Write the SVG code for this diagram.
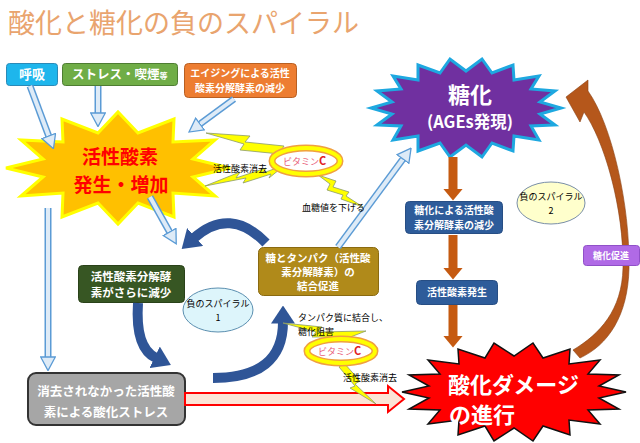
<svg xmlns="http://www.w3.org/2000/svg" width="640" height="443" viewBox="0 0 640 443">
<defs>
<style>
text{font-family:"Noto Sans CJK JP","Noto Sans CJK SC",sans-serif;}
.w{fill:#fff;font-weight:bold;text-anchor:middle}
.s{fill:#000;font-size:9px}
.hs{fill:none;stroke:#5B9BD5;stroke-width:7}
.hi{fill:none;stroke:#DEEBF7;stroke-width:4}
.br{fill:none;stroke:#C55A11;stroke-width:9}
.bl{fill:none;stroke:#2F5597;stroke-width:10}
.bolt{fill:#FFFF00;stroke:#8A9A6A;stroke-width:0.8}
.vc1{fill:#fff;stroke:#F0A040;stroke-width:7}
.vc2{fill:none;stroke:#FFFF00;stroke-width:4}
.vt{font-size:9px;fill:#E8607A}
.vC{font-size:11px;fill:#E02020;font-weight:bold}
.sp{font-size:9px;fill:#000;text-anchor:middle}
</style>
<marker id="mh" viewBox="0 0 15 16" refX="0.7" refY="8" markerWidth="15" markerHeight="16" markerUnits="userSpaceOnUse" orient="auto">
<path d="M0.7,0.7 L14.3,8 L0.7,15.3 Z" fill="#DEEBF7" stroke="#5B9BD5" stroke-width="1.3"/>
</marker>
<marker id="mb" viewBox="0 0 12 20" refX="0.5" refY="10" markerWidth="12" markerHeight="20" markerUnits="userSpaceOnUse" orient="auto">
<path d="M0,0 L12,10 L0,20 Z" fill="#C55A11"/>
</marker>
<marker id="ms" viewBox="0 0 12 16" refX="1" refY="8" markerWidth="18" markerHeight="24" markerUnits="userSpaceOnUse" orient="auto">
<path d="M0,0 L12,8 L0,16 Z" fill="#2F5597"/>
</marker>
</defs>
<rect width="640" height="443" fill="#fff"/>
<text x="8" y="33" font-size="27" fill="#E9A46E">酸化と糖化の負のスパイラル</text>

<g id="kokyu">
<rect x="6.5" y="63.5" width="51" height="22" rx="3" fill="#1EB6EC" stroke="#2A8AB8"/>
<text class="w" x="32" y="79" font-size="13">呼吸</text>
</g>
<g id="stress">
<rect x="62.5" y="63.5" width="115" height="22" rx="3" fill="#70AD47" stroke="#4E7D32"/>
<text x="72" y="79" font-size="12.5" fill="#fff" font-weight="bold">ストレス・喫煙<tspan font-size="8">等</tspan></text>
</g>
<g id="aging">
<rect x="184.5" y="63.5" width="112" height="34" rx="4" fill="#ED7D31" stroke="#B85F22"/>
<text class="w" x="240" y="77" font-size="10" font-weight="normal">エイジングによる活性</text>
<text class="w" x="240" y="92" font-size="10" font-weight="normal">酸素分解酵素の減少</text>
</g>
<g id="kasseisanso">
<polygon points="230,168 193,177 215,196 173,193 174,217 138,203 118,224 98,203 62,217 63,193 21,196 43,177 6,168 43,159 21,140 63,142 62,119 98,133 118,112 138,133 174,119 173,142 215,140 193,159" fill="#FFC000" stroke="#FFFF00" stroke-width="3" stroke-linejoin="miter"/>
<text x="120" y="164" font-size="19" fill="#FF0000" font-weight="bold" text-anchor="middle">活性酸素</text>
<text x="121" y="192" font-size="19" fill="#FF0000" font-weight="bold" text-anchor="middle">発生・増加</text>
</g>
<g id="toka" transform="translate(-2,4)">
<polygon points="563,104 542,110 557,121 533,122 541,136 516,132 515,147 494,139 484,153 468,141 452,153 442,139 420,147 420,132 395,136 403,122 379,121 394,110 373,104 394,98 379,87 403,85 395,72 420,76 420,61 442,69 452,55 468,67 484,55 494,69 515,61 516,76 541,72 533,85 557,87 542,98" fill="#7030A0" stroke="#1EA8E0" stroke-width="3"/>
<text class="w" x="472" y="99" font-size="22">糖化</text>
<text class="w" x="472" y="124" font-size="16.5">(AGEs発現)</text>
</g>
<g id="toka-genshou">
<rect x="405.5" y="201.5" width="97" height="32" rx="4" fill="#2E5C9A" stroke="#274E84"/>
<text class="w" x="454" y="214" font-size="10" font-weight="normal">糖化による活性酸</text>
<text class="w" x="454" y="229" font-size="10" font-weight="normal">素分解酵素の減少</text>
</g>
<g id="hassei">
<rect x="416.5" y="280.5" width="81" height="24" rx="4" fill="#2E5C9A" stroke="#274E84"/>
<text class="w" x="457" y="296" font-size="10" font-weight="normal">活性酸素発生</text>
</g>
<g id="spiral2">
<ellipse cx="551" cy="203" rx="34" ry="21" fill="#FFFFCC" stroke="#7A8FA8"/>
<text class="sp" x="551" y="200">負のスパイラル</text>
<text class="sp" x="551" y="214">2</text>
</g>
<g id="gensho">
<rect x="78.5" y="265.5" width="106" height="37" rx="4" fill="#375623" stroke="#2A4219"/>
<text class="w" x="131" y="281" font-size="11.5">活性酸素分解酵</text>
<text class="w" x="131" y="297" font-size="11.5">素がさらに減少</text>
</g>
<g id="ketsugo">
<rect x="258.5" y="247.5" width="120" height="48" rx="5" fill="#B08A1A" stroke="#8A6A10"/>
<text class="w" x="318" y="262" font-size="10.5">糖とタンパク（活性酸</text>
<text class="w" x="318" y="276" font-size="10.5">素分解酵素）の</text>
<text class="w" x="318" y="290" font-size="10.5">結合促進</text>
</g>
<g id="spiral1">
<ellipse cx="218" cy="310" rx="35" ry="22" fill="#DDF5FB" stroke="#5B8FB0"/>
<text class="sp" x="218" y="307">負のスパイラル</text>
<text class="sp" x="218" y="321">1</text>
</g>
<g id="sanka-stress">
<rect x="28" y="373" width="157" height="52" rx="8" fill="#A6A6A6" stroke="#333" stroke-width="2"/>
<text class="w" x="106" y="396" font-size="12.5" fill="#F4F4F4">消去されなかった活性酸</text>
<text class="w" x="106" y="417" font-size="12.5" fill="#F4F4F4">素による酸化ストレス</text>
</g>
<g id="damage">
<polygon points="626,392 599,398 619,409 588,410 600,424 569,420 570,435 543,426 533,441 514,428 494,441 485,426 458,435 459,420 428,424 440,410 409,409 429,398 402,392 429,386 409,375 440,374 428,360 459,364 458,349 485,358 494,343 514,356 533,343 543,358 570,349 569,364 600,360 588,374 619,375 599,386" fill="#FF0000" stroke="#111" stroke-width="1.5"/>
<text x="448" y="393" font-size="22" fill="#fff" font-weight="bold">酸化ダメージ</text>
<text x="449" y="423" font-size="22" fill="#fff" font-weight="bold">の進行</text>
</g>

<g id="connectors">
<line class="hs" x1="30" y1="86" x2="48.7" y2="136"/><line class="hi" x1="30" y1="86" x2="48.7" y2="136" marker-end="url(#mh)"/>
<line class="hs" x1="98" y1="86" x2="98" y2="113"/><line class="hi" x1="98" y1="86" x2="98" y2="113" marker-end="url(#mh)"/>
<line class="hs" x1="234" y1="99" x2="200" y2="124"/><line class="hi" x1="234" y1="99" x2="200" y2="124" marker-end="url(#mh)"/>
<line class="hs" x1="48" y1="208" x2="48" y2="357"/><line class="hi" x1="48" y1="208" x2="48" y2="357" marker-end="url(#mh)"/>
<line class="hs" x1="150" y1="197" x2="169.6" y2="232"/><line class="hi" x1="150" y1="197" x2="169.6" y2="232" marker-end="url(#mh)"/>
<line class="hs" x1="338" y1="247" x2="403" y2="159"/><line class="hi" x1="338" y1="247" x2="403" y2="159" marker-end="url(#mh)"/>
<line class="br" x1="453" y1="157" x2="453" y2="189" marker-end="url(#mb)"/>
<line class="br" x1="453" y1="235" x2="453" y2="268" marker-end="url(#mb)"/>
<line class="br" x1="453" y1="305" x2="453" y2="336" marker-end="url(#mb)"/>
<path class="bl" d="M266,243 Q230,206 194,238" marker-end="url(#ms)"/>
<path class="bl" d="M138,303 Q135,348 156,358" marker-end="url(#ms)"/>
<path class="bl" d="M213,378 Q283,378 283,322" marker-end="url(#ms)"/>
<path d="M185,393 L388,393 L388,386 L404,399 L388,412 L388,405 L185,405 Z" fill="#FCE4D6" stroke="#FF0000" stroke-width="2"/>
<path d="M566,97 L588,80 L588,91 C612,125 630,205 629,268 C628,316 608,345 580,358 L573,350 C600,334 622,310 623,268 C624,208 604,140 584,112 L580,122 Z" fill="#B5571B" stroke="#8A4012" stroke-width="0.6"/>
</g>

<g id="toka-sokushin">
<rect x="583.5" y="245.5" width="56" height="20" rx="3" fill="#B06AE6" stroke="#9050C8"/>
<text class="w" x="611" y="259" font-size="9" font-weight="normal">糖化促進</text>
</g>
<g id="vitaminC1">
<path class="bolt" d="M206,133 L250,136 L245,142 L284,146 L281,151 L300,151 L278,158 L280,154 L240,150 L244,144 Z"/>
<path class="bolt" d="M205,186 L240,172 L236,178 L266,168 L263,173 L285,165 L269,178 L271,174 L243,183 L246,178 Z"/>
<path class="bolt" d="M318,175 L336,181 L333,187 L349,192 L346,196 L363,207 L341,199 L343,195 L327,190 L330,184 Z"/>
<ellipse class="vc1" cx="306" cy="161" rx="34" ry="13"/>
<ellipse class="vc2" cx="306" cy="161" rx="34" ry="13"/>
<text x="283" y="165"><tspan class="vt">ビタミン</tspan><tspan class="vC">C</tspan></text>
<text class="s" x="213" y="172">活性酸素消去</text>
<text class="s" x="302" y="211">血糖値を下げる</text>
</g>
<g id="vitaminC2">
<path class="bolt" d="M283,323 L322,327 L318,332 L366,331 L340,341 L342,337 L312,337 L316,332 Z"/>
<path class="bolt" d="M344,363 L360,381 L355,384 L376,404 L350,388 L355,386 L339,367 Z"/>
<ellipse class="vc1" cx="341" cy="351" rx="34" ry="12"/>
<ellipse class="vc2" cx="341" cy="351" rx="34" ry="12"/>
<text x="318" y="355"><tspan class="vt">ビタミン</tspan><tspan class="vC">C</tspan></text>
<text class="s" x="298" y="321" font-size="8.5">タンパク質に結合し、</text>
<text class="s" x="298" y="335" font-size="8.5">糖化阻害</text>
<text class="s" x="343" y="381" font-size="8.5">活性酸素消去</text>
</g>
</svg>
